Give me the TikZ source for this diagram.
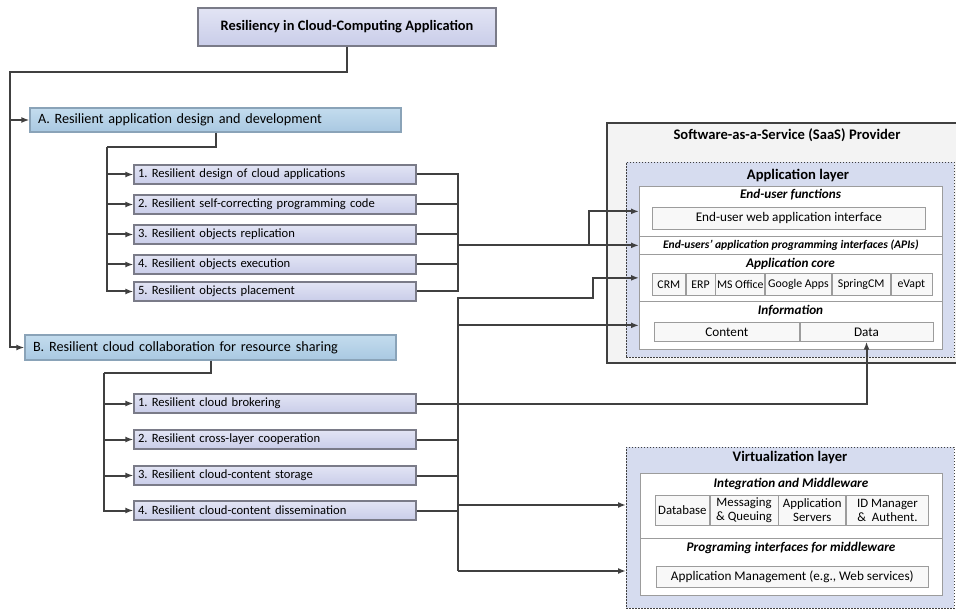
\documentclass[tikz,border=0pt]{standalone}
\usepackage{fontspec}
\setmainfont{Carlito}
\usetikzlibrary{arrows.meta,calc}
\definecolor{connc}{HTML}{404040}
\definecolor{itemborder}{HTML}{7A7B88}
\definecolor{itemtop}{HTML}{E2E4F4}
\definecolor{itembot}{HTML}{C9CDE9}
\definecolor{hdrborder}{HTML}{8AA3B8}
\definecolor{hdrtop}{HTML}{C3DCEE}
\definecolor{hdrbot}{HTML}{A9C8E1}
\definecolor{layerfill}{HTML}{D6DCEF}
\definecolor{outerfill}{HTML}{F3F3F3}
\definecolor{cellborder}{HTML}{9C9C9C}
\definecolor{cellfill}{HTML}{F8F8F8}
\tikzset{
  conn/.style={draw=connc, line width=2pt},
  arr/.style={conn, -{Latex[length=8pt,width=6pt]}},
  titlebox/.style={draw=itemborder, line width=1.5pt, top color=itemtop, bottom color=itembot,
    font=\fontsize{14.4}{16}\selectfont\bfseries, inner sep=0pt},
  hdrbox/.style={draw=hdrborder, line width=1.3pt, top color=hdrtop, bottom color=hdrbot,
    font=\fontsize{14.2}{16}\selectfont, inner xsep=8pt, inner ysep=0pt, align=left},
  itembox/.style={draw=itemborder, line width=1.3pt, top color=itemtop, bottom color=itembot,
    font=\fontsize{12.6}{14}\selectfont, inner xsep=4pt, inner ysep=0pt,
    minimum height=19pt, text width=274pt, align=left},
  outerbox/.style={fill=outerfill, inner sep=0pt},
  layerbox/.style={fill=layerfill, draw=connc, line width=0.9pt, dash pattern=on 1.8pt off 1.2pt, inner sep=0pt},
  rowbox/.style={fill=white, draw=cellborder, line width=0.7pt, inner sep=0pt, anchor=north west},
  cellbox/.style={fill=cellfill, draw=cellborder, line width=0.7pt, inner sep=0pt, anchor=north west,
    font=\fontsize{13.2}{14.5}\selectfont, align=center},
  smallcell/.style={cellbox, font=\fontsize{11.8}{13}\selectfont},
  midcell/.style={cellbox, font=\fontsize{12.8}{13.5}\selectfont},
  bigtitle/.style={font=\fontsize{14.6}{16}\selectfont\bfseries, inner sep=0pt},
  rowtitle/.style={font=\fontsize{13.2}{15}\selectfont\bfseries\itshape, inner sep=0pt},
}
\begin{document}
\frenchspacing
\begin{tikzpicture}[x=1pt,y=-1pt]
\useasboundingbox (0,0) rectangle (956,612);

% ---------- left tree ----------
\node[titlebox, minimum width=298pt, minimum height=38pt] (title) at (347,27) {Resiliency in Cloud-Computing Application};

\node[hdrbox, minimum width=371pt, minimum height=24pt, text width=355pt] (A) at (215.5,120) {A. Resilient application design and development};
\node[hdrbox, minimum width=371pt, minimum height=25pt, text width=355pt] (B) at (210.5,347.5) {B. Resilient cloud collaboration for resource sharing};

\node[itembox] (a1) at (275,174.5) {1. Resilient design of cloud applications};
\node[itembox] (a2) at (275,204.5) {2. Resilient self-correcting programming code};
\node[itembox] (a3) at (275,234.5) {3. Resilient objects replication};
\node[itembox] (a4) at (275,264.5) {4. Resilient objects execution};
\node[itembox] (a5) at (275,291.5) {5. Resilient objects placement};

\node[itembox] (b1) at (275,403.5) {1. Resilient cloud brokering};
\node[itembox] (b2) at (275,439.5) {2. Resilient cross-layer cooperation};
\node[itembox] (b3) at (275,475.5) {3. Resilient cloud-content storage};
\node[itembox] (b4) at (275,510.5) {4. Resilient cloud-content dissemination};

% ---------- SaaS provider ----------
\node[outerbox, minimum width=349pt, minimum height=240pt, anchor=north west] (saas) at (607,123) {};
\draw[connc, line width=2pt] (saas.north east) -- (saas.north west) -- (saas.south west) -- (saas.south east);
\node[bigtitle] (saastitle) at (787,135) {Software-as-a-Service (SaaS) Provider};

\node[layerbox, minimum width=328pt, minimum height=195pt, anchor=north west] (al) at (626,162) {};
\node[bigtitle] (altitle) at (798,176) {Application layer};

\node[rowbox, minimum width=303pt, minimum height=50pt] (eurow) at (639,186) {};
\node[rowbox, minimum width=303pt, minimum height=18pt] (apirow) at (639,236) {};
\node[rowbox, minimum width=303pt, minimum height=47pt] (corerow) at (639,254) {};
\node[rowbox, minimum width=303pt, minimum height=48pt] (inforow) at (639,301) {};

\node[rowtitle] (eut) at (790.5,195) {End-user functions};
\node[cellbox, minimum width=273pt, minimum height=22pt] (euweb) at (652,207) {End-user web application interface};
\node[rowtitle, font=\fontsize{11.6}{13}\selectfont\bfseries\itshape] (apit) at (apirow.center) {End-users’ application programming interfaces (APIs)};
\node[rowtitle] (coret) at (790.5,264) {Application core};
\node[smallcell, minimum width=33pt, minimum height=22pt] (crm) at (652,273) {CRM};
\node[smallcell, minimum width=29pt, minimum height=22pt] (erp) at (crm.north east) {ERP};
\node[smallcell, minimum width=49pt, minimum height=22pt] (mso) at (erp.north east) {MS Office};
\node[smallcell, minimum width=66pt, minimum height=22pt] (gapps) at (mso.north east) {Google Apps};
\node[smallcell, minimum width=58pt, minimum height=22pt] (spring) at (gapps.north east) {SpringCM};
\node[smallcell, minimum width=41pt, minimum height=22pt] (evapt) at (spring.north east) {eVapt};
\node[rowtitle] (infot) at (790.5,311) {Information};
\node[cellbox, minimum width=145pt, minimum height=19pt] (content) at (654,322) {Content};
\node[cellbox, minimum width=133pt, minimum height=19pt] (data) at (content.north east) {Data};

% ---------- Virtualization layer ----------
\node[layerbox, minimum width=328pt, minimum height=161pt, anchor=north west] (vl) at (626,447) {};
\node[bigtitle] (vltitle) at (790,458) {Virtualization layer};
\node[rowbox, minimum width=302pt, minimum height=65pt] (introw) at (640,473) {};
\node[rowbox, minimum width=302pt, minimum height=57pt] (progrow) at (640,538) {};
\node[rowtitle] (intt) at (791,484) {Integration and Middleware};
\node[midcell, minimum width=54pt, minimum height=30pt] (db) at (655,495) {Database};
\node[midcell, minimum width=68pt, minimum height=30pt] (msg) at (db.north east) {Messaging\\\& Queuing};
\node[midcell, minimum width=67pt, minimum height=30pt] (aps) at (msg.north east) {Application\\Servers};
\node[midcell, minimum width=82pt, minimum height=30pt] (idm) at (aps.north east) {ID Manager\\\&\ \ Authent.};
\node[rowtitle] (progt) at (791,548) {Programing interfaces for middleware};
\node[cellbox, minimum width=272pt, minimum height=21pt] (appm) at (656,566) {Application Management (e.g., Web services)};

% ---------- connectors: left tree ----------
\coordinate (t1) at (10,72);
\draw[arr] (title.south) |- (t1) |- (B.west);
\draw[arr] (t1 |- A.west) -- (A.west);

\coordinate (ab) at (107,147);
\draw[conn] (A.south) |- (ab);
\draw[arr] (ab) |- (a5.west);
\foreach \i in {1,2,3,4} \draw[arr] (ab |- a\i.west) -- (a\i.west);

\coordinate (bb) at (104,373);
\draw[conn] (B.south) |- (bb);
\draw[arr] (bb) |- (b4.west);
\foreach \i in {1,2,3} \draw[arr] (bb |- b\i.west) -- (b\i.west);

% ---------- connectors: A to application layer ----------
\coordinate (busA) at (458,0);
\draw[conn] (a1.east) -- (a1.east -| busA) -- (a5.east -| busA) -- (a5.east);
\foreach \i in {2,3,4} \draw[conn] (a\i.east) -- (a\i.east -| busA);
\draw[arr] (busA |- apirow.west) -- (apirow.west);
\coordinate (jA) at (589,0);
\draw[arr] (jA |- apirow.west) |- (eurow.west);

% ---------- connectors: B ----------
\coordinate (bt) at (458,298);
\coordinate (bbot) at (458,571);
\coordinate (jB) at (593,298);
\draw[arr] (bbot) -- (bt) -- (jB) |- (corerow.west);
\draw[arr] (bt |- inforow.west) -- (inforow.west);
\foreach \i in {1,2,3,4} \draw[conn] (b\i.east) -- (b\i.east -| bt);
\coordinate (v1) at (458,505);
\draw[arr] (v1) -- (v1 -| vl.west);
\draw[arr] (bbot) -- (bbot -| vl.west);
\draw[arr] (b1.east) -| (data.south);
\end{tikzpicture}
\end{document}
